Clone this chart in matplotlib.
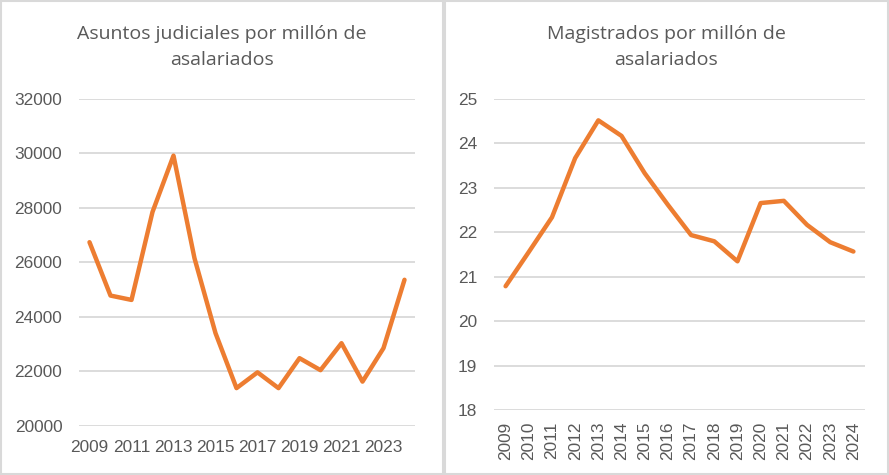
import numpy as np
import matplotlib.pyplot as plt
from matplotlib.patches import Rectangle

years = [str(y) for y in range(2009, 2025)]
asuntos = [26740, 24780, 24620, 27850, 29920, 26150, 23400, 21380, 21960, 21380,
           22480, 22040, 23030, 21620, 22850, 25360]
magistrados = [20.79, 21.56, 22.34, 23.67, 24.52, 24.17, 23.33, 22.62, 21.94, 21.80,
               21.35, 22.66, 22.71, 22.17, 21.78, 21.57]

line_col = '#ED7D31'
grid_col = '#D9D9D9'
txt_col = '#595959'
W, H = 889, 475

plt.rcParams['font.family'] = 'Liberation Sans'

fig = plt.figure(figsize=(W/100, H/100), dpi=100)

# chart borders
for x0, x1 in [(0.5, 442.5), (445.5, 888)]:
    fig.patches.append(Rectangle((x0/W, 1/H), (x1-x0)/W, (H-2)/H, transform=fig.transFigure,
                                 fill=False, edgecolor=grid_col, linewidth=1.5))

def panel(rect, vals, ylim, yticks, title, title_x, xlab_step, rot, xpad):
    l, t, r, b = rect
    ax = fig.add_axes([l/W, 1-b/H, (r-l)/W, (b-t)/H])
    x = np.arange(len(years))
    ax.plot(x, vals, color=line_col, linewidth=3.2, solid_joinstyle='round', solid_capstyle='round')
    ax.set_xlim(-0.5, len(years)-0.5)
    ax.set_ylim(*ylim)
    ax.set_yticks(yticks)
    ax.set_yticklabels([str(v) for v in yticks])
    ax.set_xticks(x[::xlab_step])
    ax.set_xticklabels(years[::xlab_step], rotation=rot)
    ax.grid(axis='y', color=grid_col, linewidth=1.3)
    ax.set_axisbelow(True)
    for s in ax.spines.values():
        s.set_visible(False)
    ax.tick_params(length=0, labelsize=12.4, labelcolor=txt_col)
    ax.tick_params(axis='y', pad=12)
    ax.tick_params(axis='x', pad=xpad)
    fig.text(title_x/W, 1-47/H, title, ha='center', va='center', fontsize=14,
             color=txt_col, family='Open Sans', linespacing=1.55)
    return ax

panel((79, 99, 415, 425.7), asuntos, (20000, 32000), list(range(20000, 32001, 2000)),
      'Asuntos judiciales por millón de\nasalariados', 222, 2, 0, 10)
panel((494, 99, 865, 410.3), magistrados, (18, 25), list(range(18, 26)),
      'Magistrados por millón de\nasalariados', 666, 1, 90, 8)

fig.savefig('out.png', dpi=100)
